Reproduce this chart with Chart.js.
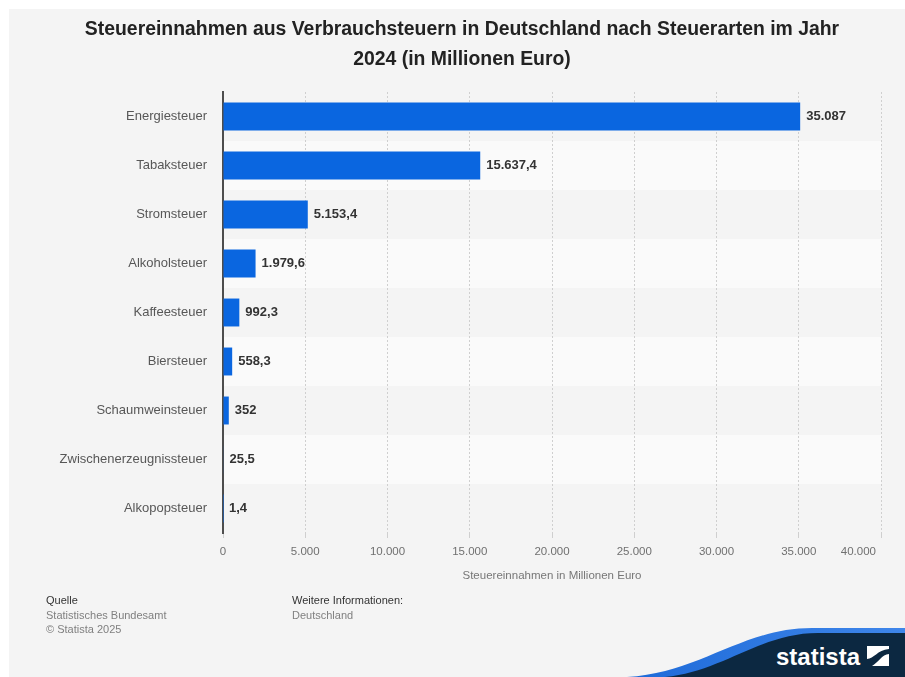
<!DOCTYPE html>
<html>
<head>
<meta charset="utf-8">
<script src="https://cdn.jsdelivr.net/npm/chart.js@4.4.1/dist/chart.umd.min.js"></script>
<style>
  body { margin: 0; background: #fff; font-family: "Liberation Sans", Arial, sans-serif; }
  #wrap { position: relative; width: 905px; height: 677px; overflow: hidden; }
  #panel { position: absolute; left: 9px; top: 9px; width: 896px; height: 668px; background: #f4f4f4; }
  #logo, canvas { position: absolute; left: 0; top: 0; }
  .foot { position: absolute; top: 593px; font-size: 11px; line-height: 14.5px; color: #808080; }
  .foot .head { color: #333; }
</style>
</head>
<body>
<div id="wrap">
  <div id="panel"></div>
  <svg id="logo" width="905" height="677">
    <defs>
      <linearGradient id="rim" x1="0" x2="1" y1="0" y2="0">
        <stop offset="0" stop-color="#1d6ad8"/>
        <stop offset="1" stop-color="#3f86ea"/>
      </linearGradient>
    </defs>
    <path d="M627 677 C700 673 742 628 812 628 L905 628 L905 677 Z" fill="url(#rim)"/>
    <path d="M665 677 C722 672 760 633 818 633 L905 633 L905 677 Z" fill="#0c2841"/>
    <text x="776" y="665" font-family="Liberation Sans, Arial, sans-serif" font-weight="bold" font-size="24" fill="#fff">statista</text>
    <rect x="867" y="646" width="22" height="20" fill="#fff"/>
    <path d="M867 659 C874 659 877 650 889 649 L889 654 C882 654 878 663 872 666 L867 666 Z" fill="#0c2841"/>
  </svg>
  <canvas id="chart" width="905" height="677"></canvas>
  <div class="foot" style="left:46px">
    <div class="head">Quelle</div>
    <div>Statistisches Bundesamt</div>
    <div>© Statista 2025</div>
  </div>
  <div class="foot" style="left:292px">
    <div class="head">Weitere Informationen:</div>
    <div>Deutschland</div>
  </div>
</div>
<script>
const categories = ['Energiesteuer', 'Tabaksteuer', 'Stromsteuer', 'Alkoholsteuer', 'Kaffeesteuer',
  'Biersteuer', 'Schaumweinsteuer', 'Zwischenerzeugnissteuer', 'Alkopopsteuer'];
const values = [35087, 15637.4, 5153.4, 1979.6, 992.3, 558.3, 352, 25.5, 1.4];
const tickLabels = ['0', '5.000', '10.000', '15.000', '20.000', '25.000', '30.000', '35.000', '40.000'];

const FONT = '"Liberation Sans", Arial, sans-serif';

// german number format: 15637.4 -> 15.637,4
function de(v) {
  const parts = String(v).split('.');
  return parts[0].replace(/\B(?=(\d{3})+(?!\d))/g, '.') + (parts[1] ? ',' + parts[1] : '');
}

const stripes = {
  id: 'stripes',
  beforeDraw(chart) {
    const { ctx, chartArea: a } = chart;
    const rowH = (a.bottom - a.top) / categories.length;
    ctx.save();
    ctx.fillStyle = '#fafafa';
    for (let i = 1; i < categories.length; i += 2) {
      ctx.fillRect(a.left, a.top + i * rowH, a.right - a.left, rowH);
    }
    ctx.restore();
  }
};

const valueLabels = {
  id: 'valueLabels',
  afterDatasetsDraw(chart) {
    const ctx = chart.ctx;
    ctx.save();
    ctx.font = 'bold 13px ' + FONT;
    ctx.fillStyle = '#333';
    ctx.textAlign = 'left';
    ctx.textBaseline = 'middle';
    chart.getDatasetMeta(0).data.forEach((bar, i) => {
      ctx.fillText(de(values[i]), bar.x + 6, bar.y);
    });
    // last x tick label is pulled inside the plot, like the original
    ctx.font = '11.5px ' + FONT;
    ctx.fillStyle = '#707070';
    ctx.textAlign = 'right';
    ctx.fillText(tickLabels[tickLabels.length - 1], chart.chartArea.right - 5, 551.5);
    ctx.restore();
  }
};

new Chart(document.getElementById('chart'), {
  type: 'bar',
  data: {
    labels: categories,
    datasets: [{
      data: values,
      backgroundColor: '#0a66e0',
      borderWidth: 0,
      barPercentage: 0.57,
      categoryPercentage: 1
    }]
  },
  options: {
    indexAxis: 'y',
    responsive: false,
    devicePixelRatio: 1,
    animation: false,
    layout: { padding: { left: 43, right: 24, top: 0, bottom: 94 } },
    plugins: {
      legend: { display: false },
      tooltip: { enabled: false },
      title: {
        display: true,
        text: ['Steuereinnahmen aus Verbrauchsteuern in Deutschland nach Steuerarten im Jahr',
          '2024 (in Millionen Euro)'],
        color: '#222',
        font: { family: FONT, size: 19.4, weight: 'bold', lineHeight: 30 / 19.4 },
        padding: { top: 15, bottom: 17 }
      }
    },
    scales: {
      x: {
        min: 0,
        max: 40000,
        afterFit(s) { s.height = 50; },
        ticks: {
          stepSize: 5000,
          padding: 7,
          color: '#707070',
          font: { family: FONT, size: 11.5 },
          maxRotation: 0,
          autoSkip: false,
          callback: (v, i) => i === tickLabels.length - 1 ? '' : tickLabels[i]
        },
        grid: { color: '#cfcfcf', lineWidth: 1, drawTicks: true, tickLength: 5 },
        border: { display: false, dash: [2, 2] },
        title: {
          display: true,
          text: 'Steuereinnahmen in Millionen Euro',
          color: '#777',
          font: { family: FONT, size: 11.5 },
          padding: { top: 0, bottom: 0 }
        }
      },
      y: {
        afterFit(s) { s.width = 180; },
        ticks: { padding: 16, color: '#575757', font: { family: FONT, size: 13 } },
        grid: { display: false, drawTicks: false },
        border: { display: true, color: '#4d4d4d', width: 2 }
      }
    }
  },
  plugins: [stripes, valueLabels]
});
</script>
</body>
</html>
